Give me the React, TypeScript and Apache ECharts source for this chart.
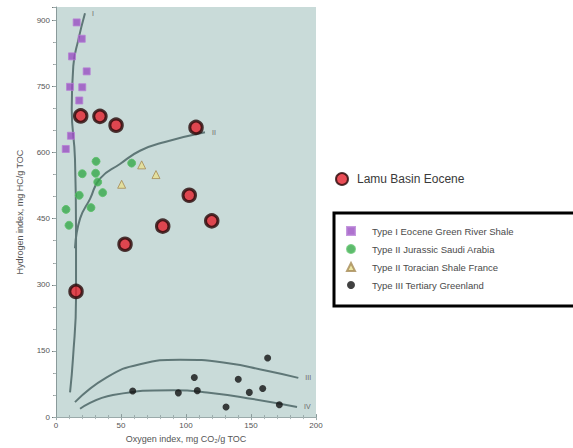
import React, { useEffect, useRef } from "react";
import * as echarts from "echarts";

// ---- Data (Oxygen index, Hydrogen index) ----
const lamuBasin: [number, number][] = [
  [19.0, 683], [33.8, 682], [46.2, 662], [107.7, 657], [102.5, 503],
  [119.8, 445], [82.1, 433], [53.1, 392], [15.4, 285],
];
const typeIGreenRiver: [number, number][] = [
  [15.9, 895], [19.8, 858], [12.3, 818], [23.6, 784], [10.8, 749],
  [20.2, 748], [17.9, 718], [11.5, 638], [7.5, 608],
];
const typeIISaudi: [number, number][] = [
  [30.8, 580], [20.2, 552], [30.5, 553], [32.1, 533], [58.2, 576],
  [17.9, 503], [35.9, 509], [7.7, 471], [26.9, 475], [10.0, 435],
];
const typeIIToarcian: [number, number][] = [
  [65.9, 572], [76.9, 550], [50.5, 528],
];
const typeIIIGreenland: [number, number][] = [
  [59.0, 59], [94.1, 55], [106.4, 90], [108.7, 60], [130.8, 23],
  [140.2, 86], [148.7, 56], [159.0, 65], [162.8, 134], [171.8, 28],
];
// Reference evolution paths
const curveI: [number, number][] = [
  [10.8, 56], [13.1, 135], [15.4, 270], [15.4, 428], [14.6, 586],
  [12.1, 698], [13.3, 796], [17.2, 856], [22.3, 916],
];
const curveII: [number, number][] = [
  [14.6, 383], [18.5, 450], [26.2, 495], [33.8, 541], [49.2, 574],
  [64.6, 604], [83.8, 624], [114.6, 646],
];
const curveIII: [number, number][] = [
  [14.6, 34], [39.0, 90], [64.6, 120], [95.4, 130], [128.7, 124],
  [162.1, 105], [186.4, 89],
];
const curveIV: [number, number][] = [
  [18.5, 19], [43.8, 50], [90.0, 61], [116.2, 56], [151.5, 41], [185.4, 23],
];
const curveLabels = ["I", "II", "III", "IV"];
const xTicks = [0, 50, 100, 150, 200];
const yTicks = [0, 150, 300, 450, 600, 750, 900];

const seriesNames = [
  "Lamu Basin Eocene",
  "Type I Eocene Green River Shale",
  "Type II Jurassic Saudi Arabia",
  "Type II Toracian Shale France",
  "Type III Tertiary Greenland",
];

const FONT = "Liberation Sans, Arial, sans-serif";
const CURVE_COLOR = "#5f7777";

export default function App() {
  const ref = useRef<HTMLDivElement>(null);

  useEffect(() => {
    if (!ref.current) return;
    const chart = echarts.init(ref.current, undefined, { renderer: "svg" });

    const curve = (name: string, data: [number, number][], label: string) => ({
      name,
      type: "line",
      data,
      smooth: true,
      symbol: "none",
      silent: true,
      color: CURVE_COLOR,
      itemStyle: { color: CURVE_COLOR },
      lineStyle: { color: CURVE_COLOR, width: 2 },
      endLabel: {
        show: true,
        formatter: () => label,
        fontSize: 7,
        color: "#6a6a6a",
        fontFamily: FONT,
        distance: 7,
      },
      z: 2,
    });

    const option: any = {
      animation: false,
      textStyle: { fontFamily: FONT },
      grid: {
        left: 56,
        top: 7,
        width: 260,
        height: 413,
        show: true,
        backgroundColor: "#c9dbd9",
        borderWidth: 0,
      },
      legend: [
        {
          data: [seriesNames[0]],
          left: 330,
          top: 167,
          itemWidth: 12,
          itemHeight: 12,
          itemGap: 0,
          textStyle: { fontSize: 12, color: "#3a3a3a", padding: [0, 0, 0, 4] },
        },
        {
          data: seriesNames.slice(1),
          orient: "vertical",
          left: 341,
          top: 221,
          itemWidth: 8,
          itemHeight: 8,
          itemGap: 8,
          textStyle: { fontSize: 9.5, color: "#4a4a4a", padding: [0, 0, 0, 12] },
        },
      ],
      xAxis: [
        {
          type: "value",
          min: 0,
          max: 200,
          interval: 50,
          name: "Oxygen index, mg CO\u2082/g TOC",
          nameLocation: "middle",
          nameGap: 16,
          nameTextStyle: { fontSize: 9, color: "#555", fontFamily: FONT },
          axisLine: { show: true, lineStyle: { color: "#9aaaaa" } },
          axisTick: { show: true, inside: true, length: 3, lineStyle: { color: "#8a9a9a" } },
          minorTick: { show: true, splitNumber: 5, length: 2, lineStyle: { color: "#9aaaaa" } },
          axisLabel: {
            fontSize: 8,
            color: "#555",
            margin: 4,
            formatter: (v: number) => (xTicks.includes(v) ? String(v) : ""),
          },
          splitLine: { show: false },
        },
        {
          type: "value",
          position: "top",
          min: 0,
          max: 200,
          interval: 50,
          axisLine: { show: false },
          axisTick: { show: true, inside: true, length: 3, lineStyle: { color: "#9aaaaa" } },
          minorTick: { show: true, splitNumber: 5, length: 2, lineStyle: { color: "#aab8b8" } },
          axisLabel: { show: false },
          splitLine: { show: false },
        },
      ],
      yAxis: [
        {
          type: "value",
          min: 0,
          max: 930,
          interval: 150,
          name: "Hydrogen index, mg HC/g TOC",
          nameLocation: "middle",
          nameGap: 32,
          nameTextStyle: { fontSize: 9, color: "#555", fontFamily: FONT },
          axisLine: { show: true, lineStyle: { color: "#8a9a9a" } },
          axisTick: { show: true, inside: false, length: 4, lineStyle: { color: "#777" } },
          minorTick: { show: true, splitNumber: 3, length: 3, lineStyle: { color: "#999" } },
          axisLabel: {
            fontSize: 8,
            color: "#555",
            margin: 6,
            formatter: (v: number) => (yTicks.includes(v) ? String(v) : ""),
          },
          splitLine: { show: false },
        },
        {
          type: "value",
          position: "right",
          min: 0,
          max: 930,
          interval: 150,
          axisLine: { show: false },
          axisTick: { show: true, inside: true, length: 3, lineStyle: { color: "#9aaaaa" } },
          minorTick: { show: true, splitNumber: 3, length: 2, lineStyle: { color: "#aab8b8" } },
          axisLabel: { show: false },
          splitLine: { show: false },
        },
      ],
      series: [
        curve("curveI", curveI, curveLabels[0]),
        curve("curveII", curveII, curveLabels[1]),
        curve("curveIII", curveIII, curveLabels[2]),
        curve("curveIV", curveIV, curveLabels[3]),
        {
          name: seriesNames[1],
          type: "scatter",
          data: typeIGreenRiver,
          symbol: "rect",
          symbolSize: 7,
          itemStyle: { color: "#9a4fc2", borderColor: "#b77fd6", borderWidth: 1 },
          z: 3,
        },
        {
          name: seriesNames[2],
          type: "scatter",
          data: typeIISaudi,
          symbol: "circle",
          symbolSize: 8,
          itemStyle: { color: "#36a84a", borderColor: "#5cc06a", borderWidth: 1 },
          z: 3,
        },
        {
          name: seriesNames[3],
          type: "scatter",
          data: typeIIToarcian,
          symbol: "triangle",
          symbolSize: 8,
          itemStyle: { color: "#e9e08e", borderColor: "#a58a55", borderWidth: 1 },
          z: 3,
        },
        {
          name: seriesNames[4],
          type: "scatter",
          data: typeIIIGreenland,
          symbol: "circle",
          symbolSize: 7,
          itemStyle: { color: "#111111" },
          z: 3,
        },
        {
          name: seriesNames[0],
          type: "scatter",
          data: lamuBasin,
          symbol: "circle",
          symbolSize: 12.5,
          itemStyle: { color: "#e3202c", borderColor: "#260808", borderWidth: 3 },
          z: 4,
        },
      ],
      graphic: [
        {
          type: "rect",
          z: -1,
          shape: { x: 334, y: 213, width: 260, height: 93 },
          style: { fill: "#ffffff", stroke: "#000000", lineWidth: 3 },
        },
      ],
    };

    chart.setOption(option);
    return () => chart.dispose();
  }, []);

  return (
    <div
      ref={ref}
      style={{ position: "fixed", left: 0, top: 0, width: 573, height: 448, background: "#ffffff" }}
    />
  );
}
